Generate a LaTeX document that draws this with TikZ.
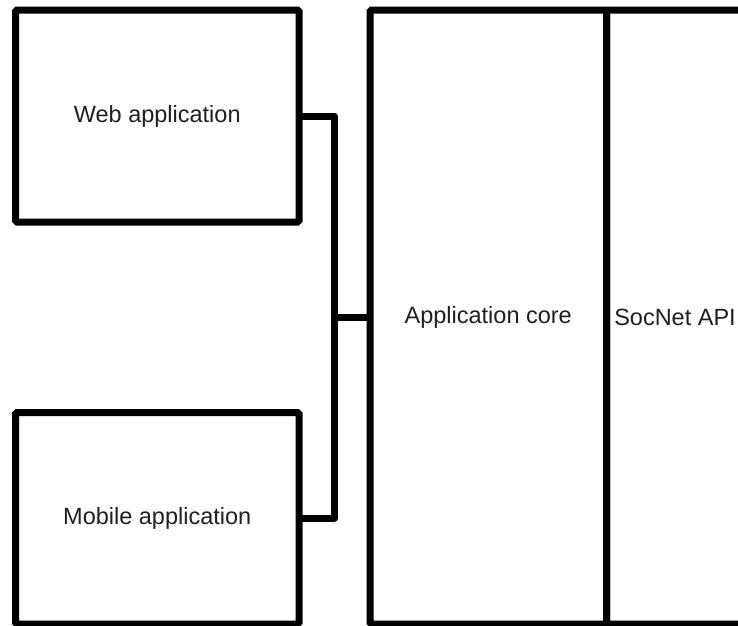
\documentclass[tikz,border=0pt]{standalone}
\usepackage{fontspec}
\setmainfont{Liberation Sans}
\usepackage{tikz}

\tikzset{
	caja/.style={draw=black, line width=7pt, rounded corners=1.5pt, inner sep=0pt, outer sep=0pt,
		font=\fontsize{23.5}{28}\selectfont, text=black!88},
	cable/.style={draw=black, line width=7pt, line join=round}
}

\begin{document}
\begin{tikzpicture}[x=1pt,y=-1pt]
		%Recortarlo
		\useasboundingbox (0,0) rectangle (738,625);
		\clip (0,0) rectangle (738,625);

		%Las cajas
		\node[caja, minimum width=283.5pt, minimum height=212pt] (web) at (157.25,116) {Web application};
		\node[caja, minimum width=283.5pt, minimum height=211.5pt] (mobile) at (157.25,518.25) {Mobile application};
		\node[caja, minimum width=236.5pt, minimum height=614pt] (core) at (488.25,317) {Application core};
		\node[caja, minimum width=137pt, minimum height=614pt] (socnet) at (675,317) {SocNet API};

		%El bus
		\coordinate (bus) at (334.5,317);
		\draw[cable] (web.east) -| (bus) |- (mobile.east);
		\draw[cable] (bus) -- (core.west);

	\end{tikzpicture}
\end{document}
